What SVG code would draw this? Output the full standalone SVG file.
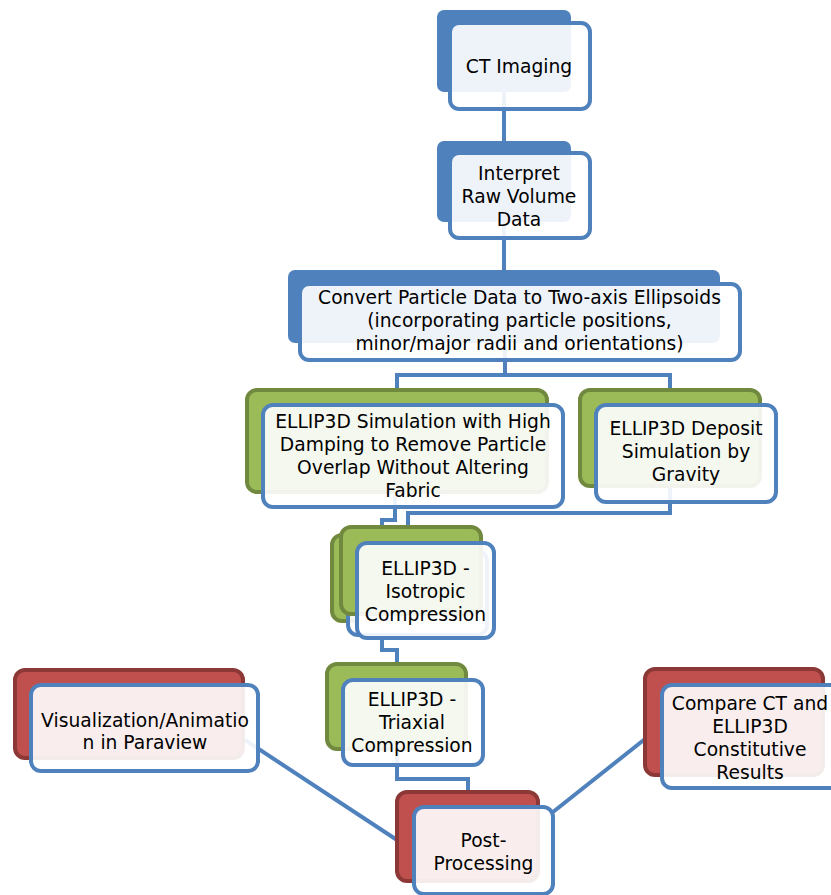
<svg xmlns="http://www.w3.org/2000/svg" width="831" height="895" viewBox="0 0 831 895">
<style>
.conn{fill:none;stroke:#4F81BD;stroke-width:4;stroke-linejoin:miter}
.bb{fill:#4F81BD}
.bg{fill:#9BBB59;stroke:#71893F;stroke-width:4}
.br{fill:#C0504D;stroke:#8C3836;stroke-width:4}
.fr{fill:#FFFFFF;fill-opacity:0.9;stroke:#4F81BD;stroke-width:4}
text{font-family:"DejaVu Sans","Liberation Sans",sans-serif;font-size:18.7px;fill:#000;text-anchor:middle}
</style>
<rect width="831" height="895" fill="#FFFFFF"/>
<g id="connectors">
<path class="conn" d="M504 80 V142"/>
<path class="conn" d="M504 210 V272"/>
<path class="conn" d="M505 343 V375 M397 390 V375 H670 V390"/>
<path class="conn" d="M395 495 V520 H382 V537"/>
<path class="conn" d="M670 486 V513 H408 V529"/>
<path class="conn" d="M382 620 V650 H397 V666"/>
<path class="conn" d="M397 749 V779 H468 V794"/>
<path class="conn" d="M245 740 L397 840"/>
<path class="conn" d="M645 739 L553 812"/>
</g>
<g id="ct-imaging">
<rect class="bb" x="437" y="10" width="134" height="82" rx="7"/>
<rect class="fr" x="450" y="23" width="140" height="86" rx="9"/>
<text x="519" y="73">CT Imaging</text>
</g>
<g id="interpret">
<rect class="bb" x="437" y="141" width="134" height="81" rx="7"/>
<rect class="fr" x="450" y="153" width="140" height="85" rx="9"/>
<text x="519" y="180">Interpret</text>
<text x="519" y="203">Raw Volume</text>
<text x="519" y="226">Data</text>
</g>
<g id="convert">
<rect class="bb" x="288" y="270" width="432" height="73" rx="7"/>
<rect class="fr" x="300" y="284" width="440" height="76" rx="9"/>
<text x="519.5" y="304">Convert Particle Data to Two-axis Ellipsoids</text>
<text x="519.5" y="327">(incorporating particle positions,</text>
<text x="519.5" y="350">minor/major radii and orientations)</text>
</g>
<g id="high-damping">
<rect class="bg" x="247" y="390" width="300" height="102" rx="10"/>
<rect class="fr" x="263" y="405" width="300" height="102" rx="10"/>
<text x="413" y="428">ELLIP3D Simulation with High</text>
<text x="413" y="451">Damping to Remove Particle</text>
<text x="413" y="474">Overlap Without Altering</text>
<text x="413" y="497">Fabric</text>
</g>
<g id="deposit">
<rect class="bg" x="580" y="390" width="180" height="96" rx="10"/>
<rect class="fr" x="596" y="405" width="180" height="97" rx="10"/>
<text x="686" y="435">ELLIP3D Deposit</text>
<text x="686" y="458">Simulation by</text>
<text x="686" y="481">Gravity</text>
</g>
<g id="isotropic">
<rect class="bg" x="332" y="535" width="141" height="86" rx="10"/>
<rect class="fr" x="348" y="551" width="139" height="84" rx="10"/>
<rect class="bg" x="341" y="527" width="140" height="87" rx="10"/>
<rect class="fr" x="357" y="543" width="137" height="95" rx="10"/>
<text x="425.5" y="575">ELLIP3D -</text>
<text x="425.5" y="598">Isotropic</text>
<text x="425.5" y="621">Compression</text>
</g>
<g id="triaxial">
<rect class="bg" x="327" y="664" width="139" height="85" rx="10"/>
<rect class="fr" x="343" y="680" width="140" height="85" rx="10"/>
<text x="412" y="706">ELLIP3D -</text>
<text x="412" y="729">Triaxial</text>
<text x="412" y="752">Compression</text>
</g>
<g id="visualization">
<rect class="br" x="15" y="670" width="228" height="88" rx="10"/>
<rect class="fr" x="31" y="685" width="227" height="86" rx="10"/>
<text x="145" y="727">Visualization/Animatio</text>
<text x="145" y="749">n in Paraview</text>
</g>
<g id="compare">
<rect class="br" x="645" y="669" width="178" height="106" rx="10"/>
<rect class="fr" x="662" y="685" width="178" height="103" rx="10"/>
<text x="750" y="710">Compare CT and</text>
<text x="750" y="733">ELLIP3D</text>
<text x="750" y="756">Constitutive</text>
<text x="750" y="779">Results</text>
</g>
<g id="post-processing">
<rect class="br" x="397" y="792" width="141" height="89" rx="10"/>
<rect class="fr" x="414" y="807" width="139" height="87" rx="10"/>
<text x="483.5" y="847">Post-</text>
<text x="483.5" y="870">Processing</text>
</g>
</svg>
